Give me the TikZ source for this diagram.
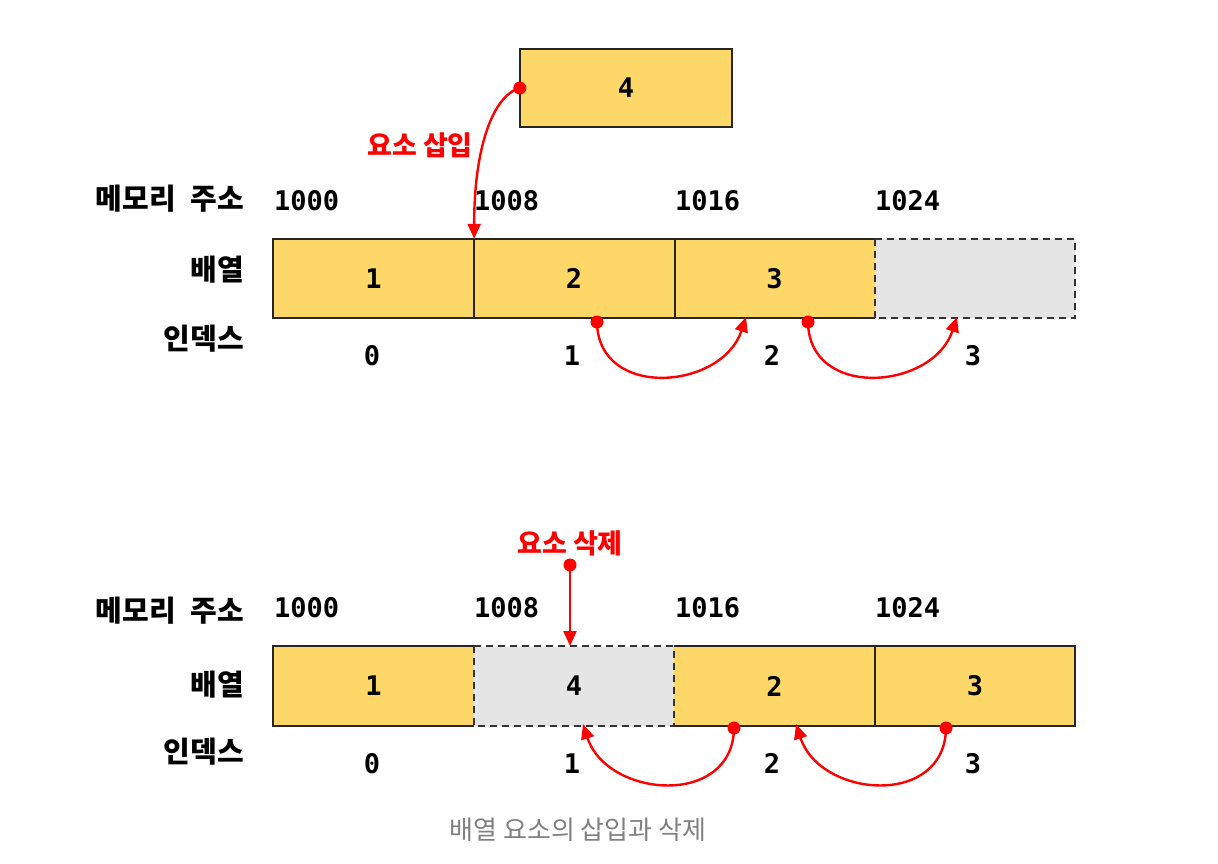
\documentclass[tikz,border=0pt]{standalone}
\usepackage{fontspec}
\usetikzlibrary{arrows.meta}
\newfontfamily\kor{Noto Sans CJK KR}
\newfontfamily\numf{DejaVu Sans Mono}
\definecolor{cellyellow}{RGB}{253,216,104}
\definecolor{cellgray}{RGB}{229,229,229}
\definecolor{arrred}{RGB}{255,0,0}
\definecolor{capgray}{RGB}{128,128,128}
\tikzset{
  cellbox/.style={rectangle, minimum width=201pt, minimum height=79pt, inner sep=0pt, font=\numf\bfseries\fontsize{27}{30}\selectfont},
  yel/.style={cellbox, fill=cellyellow},
  gry/.style={cellbox, fill=cellgray},
  solidline/.style={line width=2.2pt, black!85},
  dashline/.style={line width=2.2pt, black!80, dash pattern=on 7pt off 5pt},
  addr/.style={anchor=base west, inner sep=0pt, font=\numf\bfseries\fontsize{27}{30}\selectfont},
  idx/.style={anchor=base, inner sep=0pt, font=\numf\bfseries\fontsize{27}{30}\selectfont},
  rowlabel/.style={anchor=base east, inner sep=0pt, font=\kor\bfseries\fontsize{29}{32}\selectfont},
  redlabel/.style={anchor=base, inner sep=0pt, text=arrred, font=\kor\bfseries\fontsize{27}{30}\selectfont},
  redarrow/.style={line width=2.4pt, arrred, -{Triangle[length=15pt,width=13pt]}},
  reddot/.style={fill=arrred},
}
\begin{document}
\begin{tikzpicture}[x=1pt,y=-1pt]
\useasboundingbox (0,0) rectangle (1218,864);
% ---------- top: insertion ----------
\node[yel, minimum width=212pt, minimum height=78pt] (new4) at (626,88) {4};
\draw[solidline] (new4.north west) rectangle (new4.south east);
\node[redlabel] (inslabel) at (420,156) {요소 삽입};

\node[rowlabel] (mem1) at (244,209) {메모리\hspace{0.5em}주소};
\node[rowlabel] (arr1) at (244,280) {배열};
\node[rowlabel] (idx1) at (244,349) {인덱스};

\node[addr] (a10) at (274,210) {1000};
\node[addr] (a11) at (474,210) {1008};
\node[addr] (a12) at (675,210) {1016};
\node[addr] (a13) at (875,210) {1024};

\node[yel] (c1) at (373.5,278.5) {1};
\node[yel] (c2) at (574,278.5) {2};
\node[yel] (c3) at (774.5,278.5) {3};
\node[gry, minimum width=200pt] (c4) at (975,278.5) {};
\draw[solidline] (c3.north east) -- (c1.north west) -- (c1.south west) -- (c3.south east);
\draw[solidline] (c1.north east) -- (c1.south east);
\draw[solidline] (c2.north east) -- (c2.south east);
\draw[dashline] (c4.north west) rectangle (c4.south east);

\node[idx] (i10) at (372,365) {0};
\node[idx] (i11) at (572,365) {1};
\node[idx] (i12) at (772,365) {2};
\node[idx] (i13) at (973,365) {3};

% insertion arrow
\coordinate (insdot) at (new4.west);
\coordinate (instip) at (c1.north east);
\draw[redarrow] (insdot) .. controls (492,96) and (474,150) .. (instip);
\fill[reddot] (insdot) circle (6.5pt);

% shift arcs
\coordinate (s1) at (597,322);
\coordinate (t1) at (746,317);
\coordinate (s2) at (808,322);
\coordinate (t2) at (957,317);
\draw[redarrow] (s1) .. controls (598,400) and (722,390) .. (t1);
\draw[redarrow] (s2) .. controls (809,400) and (933,390) .. (t2);
\fill[reddot] (s1) circle (6.5pt);
\fill[reddot] (s2) circle (6.5pt);

% ---------- bottom: deletion ----------
\node[redlabel] (dellabel) at (570,553) {요소 삭제};

\node[rowlabel] (mem2) at (244,621) {메모리\hspace{0.5em}주소};
\node[rowlabel] (arr2) at (244,695) {배열};
\node[rowlabel] (idx2) at (244,762) {인덱스};

\node[addr] (a20) at (274,617) {1000};
\node[addr] (a21) at (474,617) {1008};
\node[addr] (a22) at (675,617) {1016};
\node[addr] (a23) at (875,617) {1024};

\node[yel] (b1) at (373.5,686) {1};
\node[gry, minimum width=200pt] (b2) at (574,686) {4};
\node[yel] (b3) at (774.5,686) {2};
\node[yel, minimum width=200pt] (b4) at (975,686) {3};
\draw[solidline] (b1.north east) -- (b1.north west) -- (b1.south west) -- (b1.south east);
\draw[solidline] (b3.north west) -- (b4.north east) -- (b4.south east) -- (b3.south west);
\draw[solidline] (b3.north east) -- (b3.south east);
\draw[dashline] (b2.north west) rectangle (b2.south east);

\node[idx] (i20) at (372,773) {0};
\node[idx] (i21) at (572,773) {1};
\node[idx] (i22) at (772,773) {2};
\node[idx] (i23) at (973,773) {3};

% deletion arrow
\coordinate (deldot) at (570,565);
\coordinate (deltip) at (570,646);
\draw[redarrow] (deldot) -- (deltip);
\fill[reddot] (deldot) circle (6.5pt);

% shift-left arcs
\coordinate (u1) at (734,728);
\coordinate (v1) at (583,724);
\coordinate (u2) at (946,728);
\coordinate (v2) at (796,724);
\draw[redarrow] (u1) .. controls (733,808) and (607,798) .. (v1);
\draw[redarrow] (u2) .. controls (945,808) and (820,798) .. (v2);
\fill[reddot] (u1) circle (6.5pt);
\fill[reddot] (u2) circle (6.5pt);

% caption
\node[anchor=base, inner sep=0pt, text=capgray, font=\kor\fontsize{26}{30}\selectfont] (caption) at (578,839) {배열 요소의 삽입과 삭제};
\end{tikzpicture}
\end{document}
